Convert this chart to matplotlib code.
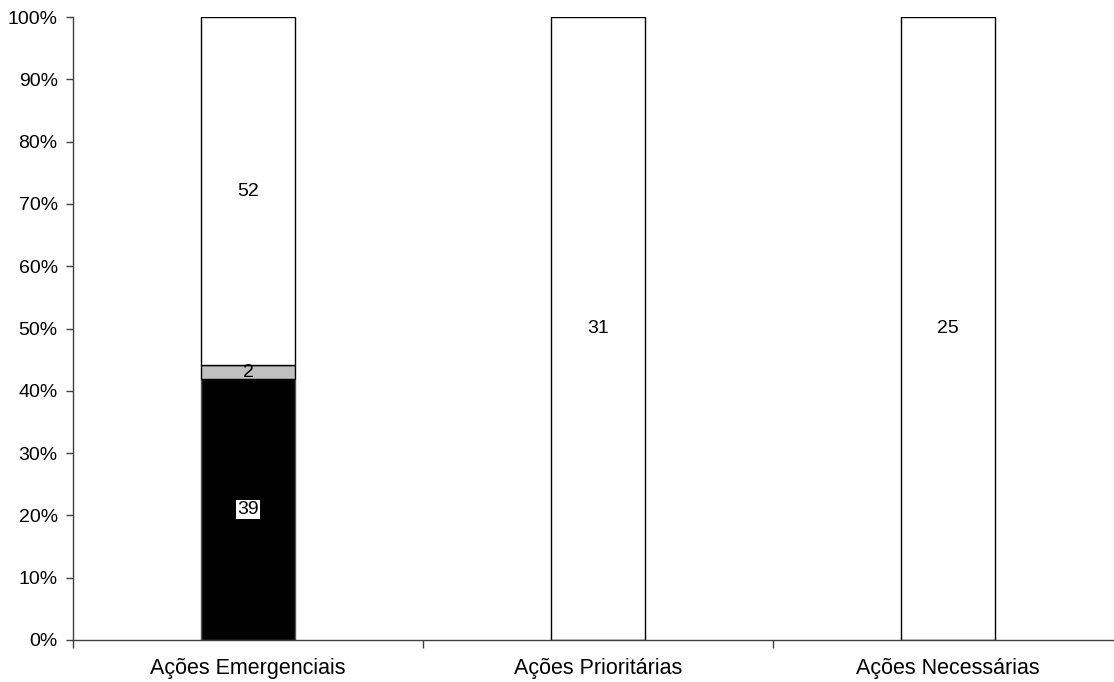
import matplotlib
matplotlib.use("Agg")
import matplotlib.pyplot as plt
from matplotlib.ticker import FixedLocator, PercentFormatter

categories = ["Ações Emergenciais", "Ações Prioritárias", "Ações Necessárias"]
# stacked counts per category (bottom to top)
black_vals = [39, 0, 0]
gray_vals = [2, 0, 0]
white_vals = [52, 31, 25]

plt.rcParams["font.family"] = ["Liberation Sans", "DejaVu Sans"]
plt.rcParams["font.size"] = 14

fig = plt.figure(figsize=(11.14, 6.82), dpi=100)
ax = fig.add_axes([73 / 1114, 42 / 682, 1050 / 1114, 623 / 682])

totals = [b + g + w for b, g, w in zip(black_vals, gray_vals, white_vals)]
x = list(range(len(categories)))
width = 0.27

series = [
    (black_vals, "#000000", "#555555"),
    (gray_vals, "#c0c0c0", "#000000"),
    (white_vals, "#ffffff", "#000000"),
]

bottoms = [0.0] * len(categories)
for vals, face, edge in series:
    pct = [100.0 * v / t for v, t in zip(vals, totals)]
    for i, (p, v) in enumerate(zip(pct, vals)):
        if v == 0:
            continue
        ax.bar(x[i], p, width, bottom=bottoms[i], color=face,
               edgecolor=edge, linewidth=1.0, zorder=2)
        cy = bottoms[i] + p / 2
        if face == "#000000":
            ax.text(x[i], cy, str(v), ha="center", va="center", color="black",
                    fontsize=14, zorder=3,
                    bbox=dict(boxstyle="square,pad=0.05", facecolor="white",
                              edgecolor="none"))
        else:
            ax.text(x[i], cy, str(v), ha="center", va="center", color="black",
                    fontsize=14, zorder=3)
    bottoms = [b + p for b, p in zip(bottoms, pct)]

ax.set_xlim(-0.5, 2.5)
ax.set_ylim(0, 100)

ax.yaxis.set_major_locator(FixedLocator(range(0, 101, 10)))
ax.yaxis.set_major_formatter(PercentFormatter(decimals=0))
ax.tick_params(axis="y", direction="out", length=5, width=1, pad=6,
               color="#404040", labelsize=14)

ax.set_xticks([-0.5, 0.5, 1.5, 2.5])
ax.set_xticklabels([])
ax.set_xticks(x, minor=True)
ax.set_xticklabels(categories, minor=True)
ax.tick_params(axis="x", which="major", direction="out", length=6, width=1,
               color="#404040")
ax.tick_params(axis="x", which="minor", length=0, pad=13, labelsize=15.5)

for side in ("top", "right"):
    ax.spines[side].set_visible(False)
for side in ("left", "bottom"):
    ax.spines[side].set_color("#404040")
    ax.spines[side].set_linewidth(1.0)

fig.savefig("out.png", dpi=100)
